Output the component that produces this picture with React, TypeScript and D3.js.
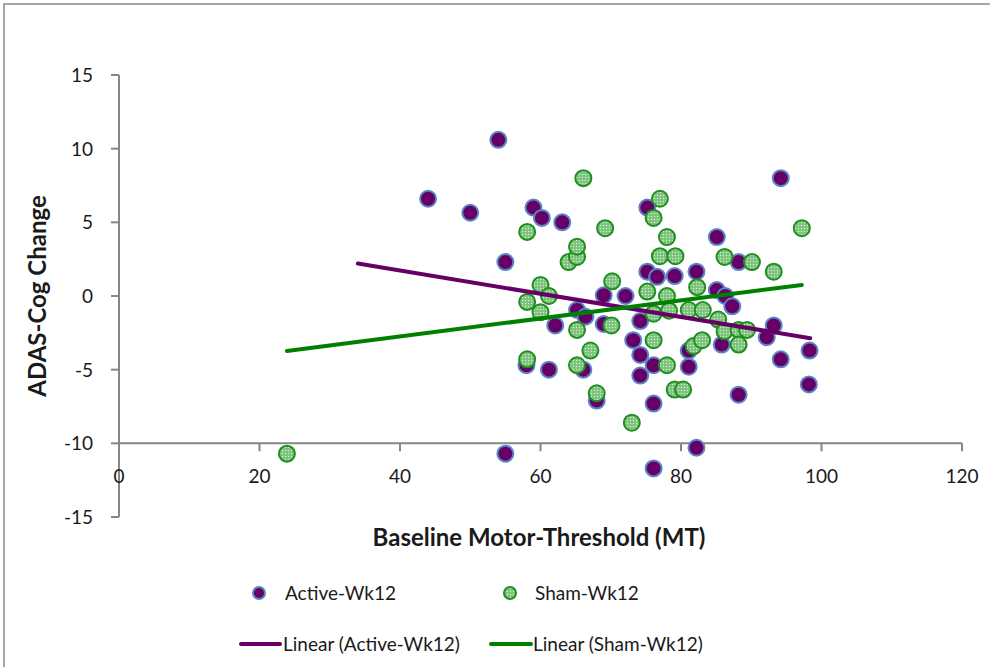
import React from "react";
import * as d3 from "d3";

// Baseline motor threshold (x) vs. ADAS-Cog change (y), active stimulation group
const activeX = [44, 50, 54, 55, 55, 58, 59, 60.2, 61.2, 62.1, 63.1, 65.2, 66.4, 66.1, 68, 69, 69, 72.1, 73.2, 74.2, 74.2, 74.2, 75.2, 75.2, 76.6, 76.1, 76.1, 76.1, 79.1, 81.1, 81.1, 82.2, 82.2, 85.1, 85.1, 85.8, 86.3, 87.3, 88.2, 88.2, 92.2, 93.2, 94.2, 94.2, 98.3, 98.2];
const activeY = [6.6, 5.65, 10.6, 2.3, -10.7, -4.7, 6.0, 5.3, -5.0, -2.0, 5.0, -0.95, -1.4, -5.0, -7.1, 0.05, -1.9, 0, -3.0, -1.7, -4.0, -5.4, 6.0, 1.65, 1.3, -4.7, -7.3, -11.7, 1.35, -3.7, -4.8, -10.3, 1.65, 4.0, 0.4, -3.3, 0, -0.7, 2.3, -6.7, -2.8, -2.0, 8.0, -4.3, -3.7, -6.0];

// Sham stimulation group
const shamX = [23.9, 58.1, 58.1, 58.1, 60, 60, 61.2, 64, 65.2, 65.2, 65.2, 65.2, 66.1, 67.1, 68, 69.2, 70.2, 70.1, 73, 75.2, 76.1, 77, 77, 79.2, 78, 76.1, 76.1, 78, 78.3, 78, 79.1, 80.3, 81.1, 81.8, 82.3, 83.1, 83, 85.3, 86.2, 86.2, 88.2, 88.2, 89.4, 90.1, 93.2, 97.2];
const shamY = [-10.7, 4.35, -0.4, -4.3, 0.75, -1.1, 0, 2.3, 2.65, 3.35, -2.3, -4.7, 8.0, -3.7, -6.6, 4.6, 1.0, -2.0, -8.6, 0.3, 5.3, 6.6, 2.7, 2.7, 4.0, -1.2, -3.0, 0, -1.0, -4.7, -6.35, -6.35, -0.95, -3.4, 0.6, -0.95, -3.0, -1.6, 2.65, -2.4, -2.3, -3.3, -2.3, 2.3, 1.65, 4.6];

// Linear trendline end points
const trendActiveX = [34, 98.4];
const trendActiveY = [2.2, -2.87];
const trendShamX = [23.9, 97.2];
const trendShamY = [-3.73, 0.75];

// Axis ticks
const xTicks = [0, 20, 40, 60, 80, 100, 120];
const yTicks = [-15, -10, -5, 0, 5, 10, 15];

const seriesNames = ["Active-Wk12", "Sham-Wk12"];
const trendNames = ["Linear (Active-Wk12)", "Linear (Sham-Wk12)"];

const FONT = "Lato, 'Open Sans', sans-serif";
const AXIS = "#868686";
const PURPLE = "#660066";
const PURPLE_EDGE = "#5b86c4";
const GREEN_EDGE = "#1f8f1f";
const GREEN_LINE = "#008000";
const TEXT = "#1a1a1a";

export default function App() {
  const x = d3.scaleLinear().domain([0, 120]).range([119, 962]);
  const y = d3.scaleLinear().domain([-15, 15]).range([517, 75]);
  const xAxisY = y(-10);
  const line = d3
    .line<[number, number]>()
    .x((d) => x(d[0]))
    .y((d) => y(d[1]));

  const active = activeX.map((v, i) => [v, activeY[i]] as [number, number]);
  const sham = shamX.map((v, i) => [v, shamY[i]] as [number, number]);
  const trendA = trendActiveX.map((v, i) => [v, trendActiveY[i]] as [number, number]);
  const trendS = trendShamX.map((v, i) => [v, trendShamY[i]] as [number, number]);

  const R = 8;

  return (
    <svg
      width={990}
      height={667}
      style={{ position: "absolute", left: 0, top: 0, background: "#fff" }}
      fontFamily={FONT}
    >
      <defs>
        <pattern id="shamDots" width={3} height={3} patternUnits="userSpaceOnUse">
          <rect width={3} height={3} fill="#86c886" />
          <rect x={0} y={0} width={1} height={1} fill="#d6efd6" />
          <rect x={1.5} y={1.5} width={1} height={1} fill="#5fae5f" />
        </pattern>
      </defs>

      {/* chart frame */}
      <rect x={4} y={4} width={1000} height={700} fill="none" stroke="#a6a6a6" strokeWidth={2} />

      {/* y axis */}
      <line x1={x(0)} x2={x(0)} y1={y(15)} y2={y(-15)} stroke={AXIS} strokeWidth={2} />
      {yTicks.map((t) => (
        <g key={"yt" + t}>
          <line x1={x(0) - 8} x2={x(0)} y1={y(t)} y2={y(t)} stroke={AXIS} strokeWidth={2} />
          <text x={93} y={y(t)} dy="0.36em" textAnchor="end" fontSize={19} fill={TEXT}>
            {t}
          </text>
        </g>
      ))}

      {/* x axis, crossing at y = -10 */}
      <line x1={x(0)} x2={x(120)} y1={xAxisY} y2={xAxisY} stroke={AXIS} strokeWidth={2} />
      {xTicks.map((t) => (
        <g key={"xt" + t}>
          <line x1={x(t)} x2={x(t)} y1={xAxisY} y2={xAxisY + 8} stroke={AXIS} strokeWidth={2} />
          <text x={x(t)} y={xAxisY + 40} textAnchor="middle" fontSize={19} fill={TEXT}>
            {t}
          </text>
        </g>
      ))}

      {/* axis titles */}
      <text
        transform={`translate(46, ${y(0)}) rotate(-90)`}
        textAnchor="middle"
        fontSize={24}
        fontWeight="bold"
        fill={TEXT}
      >
        ADAS-Cog Change
      </text>
      <text x={539} y={546} textAnchor="middle" fontSize={24} fontWeight="bold" fill={TEXT}>
        Baseline Motor-Threshold (MT)
      </text>

      {/* markers */}
      {active.map((d, i) => (
        <circle
          key={"a" + i}
          cx={x(d[0])}
          cy={y(d[1])}
          r={R}
          fill={PURPLE}
          stroke={PURPLE_EDGE}
          strokeWidth={2}
        />
      ))}
      {sham.map((d, i) => (
        <circle
          key={"s" + i}
          cx={x(d[0])}
          cy={y(d[1])}
          r={R}
          fill="url(#shamDots)"
          stroke={GREEN_EDGE}
          strokeWidth={2}
        />
      ))}

      {/* trendlines */}
      <path d={line(trendA) ?? ""} fill="none" stroke={PURPLE} strokeWidth={4} strokeLinecap="round" />
      <path d={line(trendS) ?? ""} fill="none" stroke={GREEN_LINE} strokeWidth={4} strokeLinecap="round" />

      {/* legend */}
      <g fontSize={19} fill={TEXT}>
        <circle cx={259} cy={593} r={6} fill={PURPLE} stroke={PURPLE_EDGE} strokeWidth={2} />
        <text x={285} y={593} dy="0.36em" fill={TEXT}>
          {seriesNames[0]}
        </text>
        <circle cx={510} cy={593} r={6} fill="url(#shamDots)" stroke={GREEN_EDGE} strokeWidth={2} />
        <text x={535} y={593} dy="0.36em" fill={TEXT}>
          {seriesNames[1]}
        </text>

        <line x1={241} x2={280} y1={644} y2={644} stroke={PURPLE} strokeWidth={4} strokeLinecap="round" />
        <text x={283} y={644} dy="0.36em" fill={TEXT}>
          {trendNames[0]}
        </text>
        <line x1={491} x2={531} y1={644} y2={644} stroke={GREEN_LINE} strokeWidth={4} strokeLinecap="round" />
        <text x={533} y={644} dy="0.36em" fill={TEXT}>
          {trendNames[1]}
        </text>
      </g>
    </svg>
  );
}
